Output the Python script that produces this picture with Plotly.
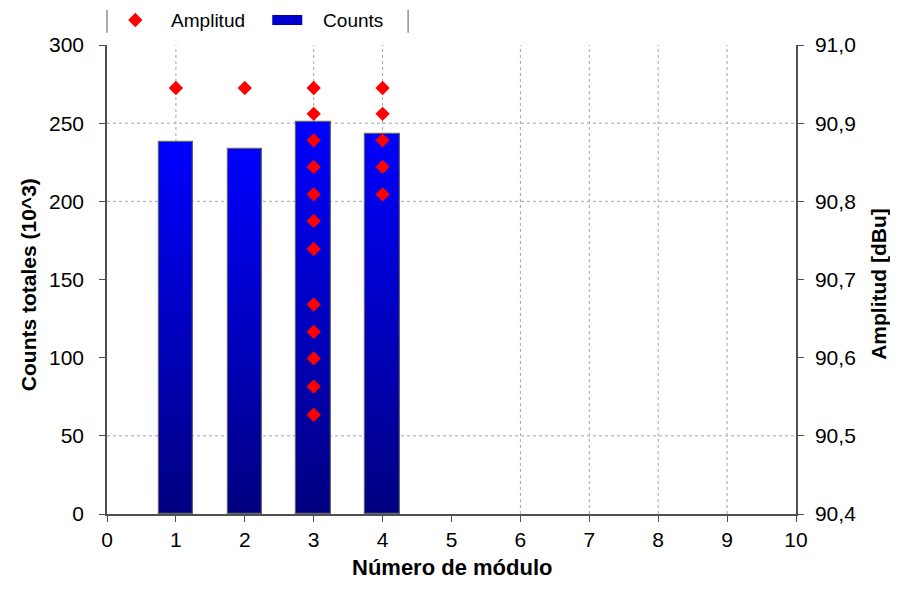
import plotly.graph_objects as go

# ---- data ----
modules = [1, 2, 3, 4]
counts = [237.8, 233.3, 251.0, 243.3]          # Counts totales (10^3)

amp_modules = [1, 2,
               3, 3, 3, 3, 3, 3, 3, 3, 3, 3, 3, 3,
               4, 4, 4, 4, 4]
amp_values = [90.945, 90.945,
              90.945, 90.912, 90.878, 90.844, 90.809, 90.775, 90.739,
              90.668, 90.633, 90.599, 90.563, 90.527,
              90.945, 90.912, 90.878, 90.844, 90.809]

x_ticks = list(range(0, 11))
y_ticks = [0, 50, 100, 150, 200, 250, 300]
y2_ticks = [90.4, 90.5, 90.6, 90.7, 90.8, 90.9, 91.0]
grid_x = [1, 3, 4, 6, 7, 8, 9]
grid_y = [50, 200, 250]

x_title = "Número de módulo"
y_title = "Counts totales (10^3)"
y2_title = "Amplitud [dBu]"

FONT = "Liberation Sans, Arial, sans-serif"
N_SEG = 48
c_bot = (0, 0, 128)
c_top = (0, 0, 255)

fig = go.Figure()

# gradient bars built from stacked slices of each value
for k in range(N_SEG):
    t = (k + 0.5) / N_SEG
    col = "rgb({},{},{})".format(*[round(a + (b - a) * t) for a, b in zip(c_bot, c_top)])
    fig.add_trace(go.Bar(
        x=modules,
        y=[v / N_SEG * 1.02 for v in counts],
        base=[v * k / N_SEG for v in counts],
        width=0.5,
        marker=dict(color=col, line=dict(width=0)),
        showlegend=False, hoverinfo="skip",
        yaxis="y",
    ))
# outline
fig.add_trace(go.Bar(
    x=modules, y=counts, width=0.5, name="Counts",
    marker=dict(color="rgba(0,0,0,0)", line=dict(color="rgb(100,100,110)", width=1.2)),
    showlegend=False, yaxis="y",
))
# legend entry (wide rectangle swatch)
fig.add_trace(go.Scatter(
    x=[None], y=[None], name="\u00a0\u00a0\u00a0Counts", mode="lines",
    line=dict(color="rgb(0,0,205)", width=12),
    legendrank=2, yaxis="y",
))

fig.add_trace(go.Scatter(
    x=amp_modules, y=amp_values, mode="markers", name="\u00a0\u00a0\u00a0Amplitud",
    marker=dict(symbol="diamond", size=11, color="rgb(255,0,0)"),
    yaxis="y2", legendrank=1,
))

shapes = []
for gx in grid_x:
    shapes.append(dict(type="line", xref="x", yref="paper", x0=gx, x1=gx, y0=0, y1=1,
                       line=dict(color="rgb(165,165,165)", width=1, dash="dot"), layer="below"))
for gy in grid_y:
    shapes.append(dict(type="line", xref="paper", yref="y", x0=0, x1=1, y0=gy, y1=gy,
                       line=dict(color="rgb(165,165,165)", width=1, dash="dot"), layer="below"))
# legend side lines
for px in [0.0, 0.437]:
    shapes.append(dict(type="line", xref="paper", yref="paper", x0=px, x1=px,
                       y0=1.026, y1=1.075, line=dict(color="rgb(90,90,90)", width=1)))

annotations = [
    dict(text="<b>" + x_title + "</b>", xref="paper", yref="paper", x=0.5, y=-0.115,
         xanchor="center", yanchor="middle", showarrow=False, font=dict(size=22)),
    dict(text="<b>" + y_title + "</b>", xref="paper", yref="paper", x=-0.1147, y=0.49,
         xanchor="center", yanchor="middle", textangle=-90, showarrow=False,
         font=dict(size=21)),
    dict(text="<b>" + y2_title + "</b>", xref="paper", yref="paper", x=1.12, y=0.49,
         xanchor="center", yanchor="middle", textangle=-90, showarrow=False,
         font=dict(size=21)),
]

axis_common = dict(showgrid=False, zeroline=False, automargin=False,
                   showline=True, linecolor="rgb(80,80,80)", linewidth=1.5,
                   ticks="outside", ticklen=6, tickcolor="rgb(80,80,80)",
                   tickfont=dict(size=21))

fig.update_layout(
    width=882, height=574,
    margin=dict(l=99, r=94, t=37, b=68, autoexpand=False),
    paper_bgcolor="white", plot_bgcolor="white",
    barmode="overlay", bargap=0,
    separators=",.",
    font=dict(family=FONT, size=21, color="black"),
    showlegend=True,
    legend=dict(orientation="h", x=0.012, xanchor="left", y=1.053, yanchor="middle",
                font=dict(size=19), bgcolor="rgba(0,0,0,0)", traceorder="normal",
                entrywidth=107, entrywidthmode="pixels"),
    xaxis=dict(range=[0, 10], tickvals=x_ticks, **axis_common),
    yaxis=dict(range=[0, 300], tickvals=y_ticks, ticklabelstandoff=11, **axis_common),
    yaxis2=dict(range=[90.4, 91.0], tickvals=y2_ticks, tickformat=".1f",
                overlaying="y", side="right", ticklabelstandoff=7, **axis_common),
    shapes=shapes,
    annotations=annotations,
)

fig.write_html("out.html")
